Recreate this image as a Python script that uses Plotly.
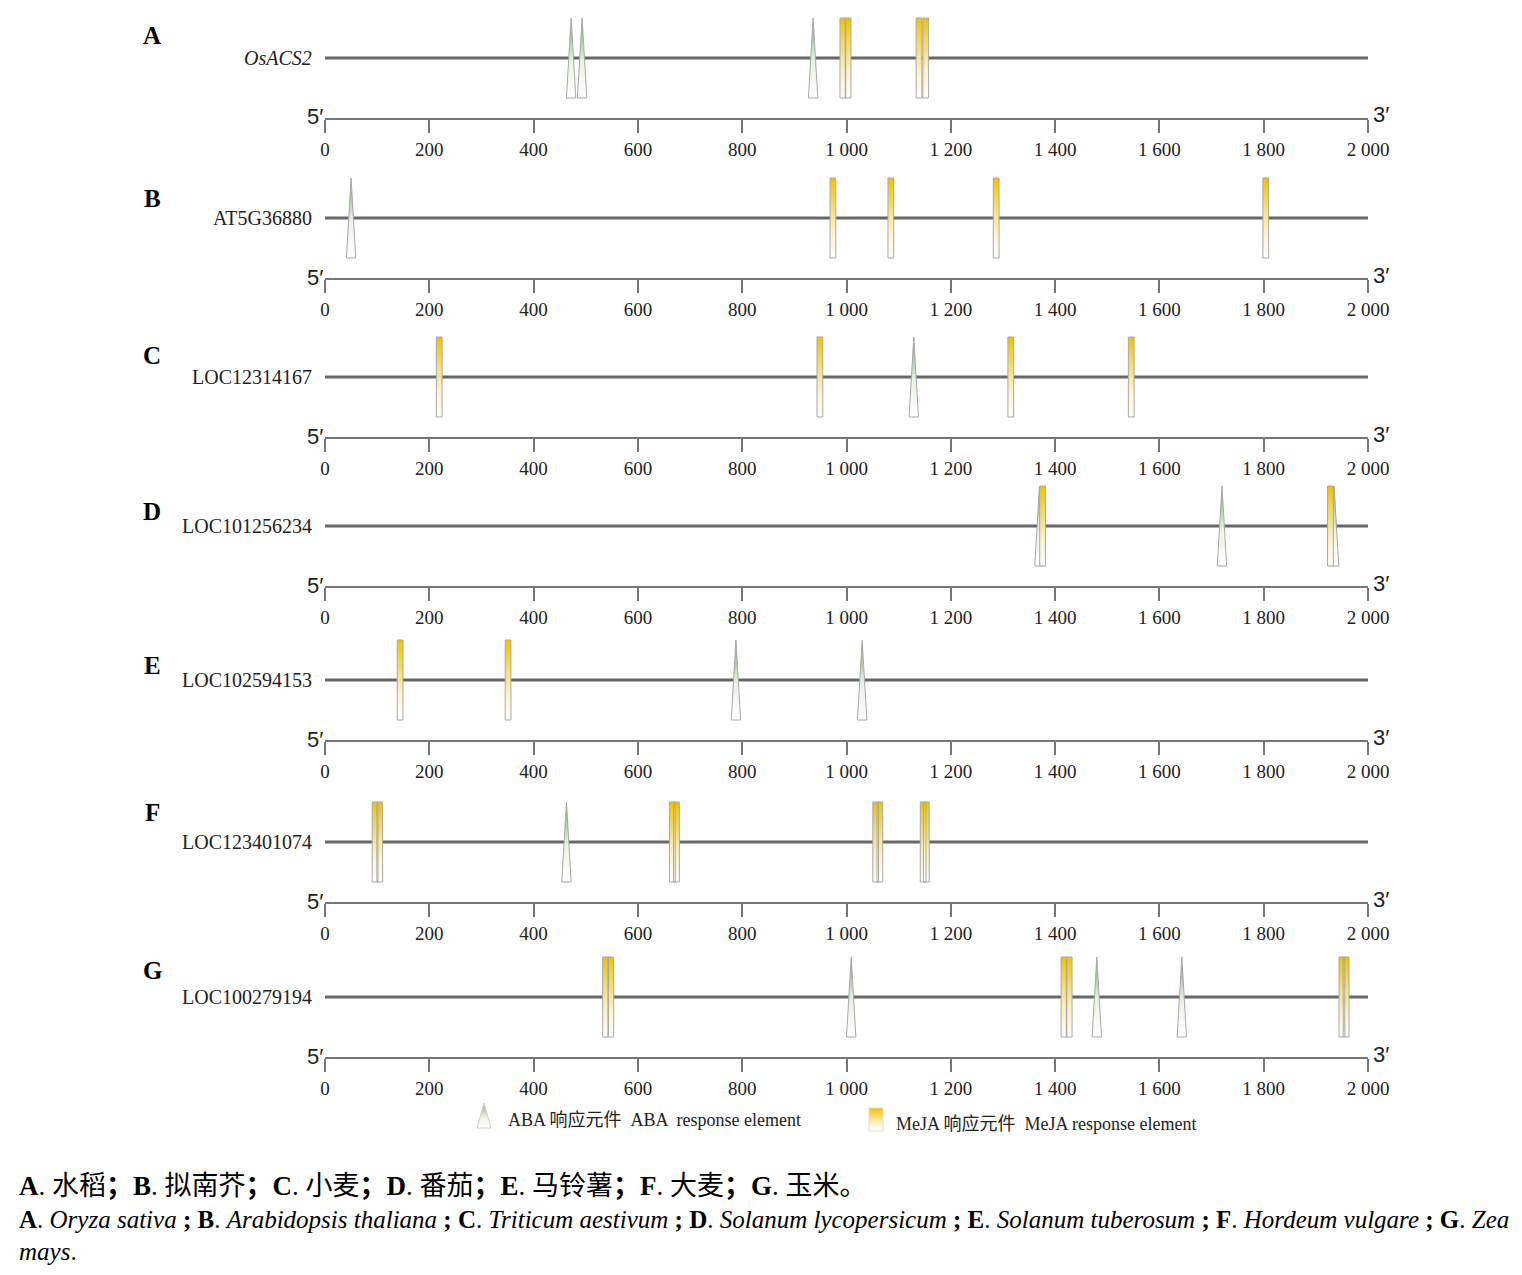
import plotly.graph_objects as go

W, H = 1522, 1275

# ---- data ----
PANELS = ["A", "B", "C", "D", "E", "F", "G"]
GENES = ["OsACS2", "AT5G36880", "LOC12314167", "LOC101256234",
         "LOC102594153", "LOC123401074", "LOC100279194"]
GENE_ITALIC = [True, False, False, False, False, False, False]
GENE_LEN = 2000

# ABA / MeJA response element positions (bp)
ABA_POS = [[472, 493, 936],
           [50],
           [1129],
           [1370, 1720, 1935],
           [788, 1030],
           [463],
           [1009, 1480, 1643]]
MEJA_POS = [[993, 1003, 1139, 1152],
            [974, 1085, 1287, 1804],
            [219, 949, 1315, 1546],
            [1376, 1928],
            [144, 351],
            [96, 105, 666, 674, 1056, 1064, 1147, 1153],
            [538, 548, 1417, 1427, 1950, 1958]]

TICK_VALS = [0, 200, 400, 600, 800, 1000, 1200, 1400, 1600, 1800, 2000]
TICK_TEXT = ["0", "200", "400", "600", "800", "1 000", "1 200",
             "1 400", "1 600", "1 800", "2 000"]

LEGEND_ABA = "ABA 响应元件  ABA  response element"
LEGEND_MEJA = "MeJA 响应元件  MeJA response element"

CAPTION = [
    "<b>A</b>. 水稻<b>；</b><b>B</b>. 拟南芥<b>；</b><b>C</b>. 小麦<b>；</b>"
    "<b>D</b>. 番茄<b>；</b><b>E</b>. 马铃薯<b>；</b><b>F</b>. 大麦<b>；</b>"
    "<b>G</b>. 玉米。",
    "<b>A</b>. <i>Oryza sativa</i> <b>;</b> <b>B</b>. <i>Arabidopsis thaliana</i> <b>;</b> "
    "<b>C</b>. <i>Triticum aestivum</i> <b>;</b> <b>D</b>. <i>Solanum lycopersicum</i> <b>;</b> "
    "<b>E</b>. <i>Solanum tuberosum</i> <b>;</b> <b>F</b>. <i>Hordeum vulgare</i> <b>;</b> "
    "<b>G</b>. <i>Zea</i>",
    "<i>mays</i>.",
]

# ---- layout / style ----
X0, X1 = 325, 1368                  # pixel position of 0 and 2000 bp
AXIS_Y = [118, 278, 437, 586, 740, 902, 1057]
LETTER_DY = [82, 80, 82, 74, 75, 90, 87]
PANEL_H = 110
LINE_Y = 60
EL_BOT, EL_TOP = 20, 100
ABA_W, MEJA_W = 18, 11

SERIF = "Liberation Serif, Times New Roman, Noto Sans CJK SC, serif"
SANS = "Liberation Sans, Arial, sans-serif"
OUTLINE = "#a8a8a8"
ABA_SCALE = [[0, "#ffffff"], [0.45, "#ebf3e6"], [1, "#7aad64"]]
MEJA_SCALE = [[0, "#ffffff"], [0.35, "#fcf2c6"], [1, "#f2c200"]]


def aba_xy(positions, bot, top, w):
    xs, ys = [], []
    for p in positions:
        xs += [p - w / 2, p, p + w / 2, p - w / 2, None]
        ys += [bot, top, bot, bot, None]
    return xs, ys


def meja_xy(positions, bot, top, w):
    xs, ys = [], []
    for p in positions:
        xs += [p - w / 2, p - w / 2, p + w / 2, p + w / 2, p - w / 2, None]
        ys += [bot, top, top, bot, bot, None]
    return xs, ys


fig = go.Figure()
annotations = []

for i, gene in enumerate(GENES):
    k = "" if i == 0 else str(i + 1)
    xa, ya = "x" + k, "y" + k
    ay = AXIS_Y[i]
    dom = [1 - ay / H, 1 - (ay - PANEL_H) / H]

    fig.add_trace(go.Scatter(
        x=[0, GENE_LEN], y=[LINE_Y, LINE_Y], mode="lines",
        line=dict(color="#676767", width=3), cliponaxis=False,
        xaxis=xa, yaxis=ya, showlegend=False, hoverinfo="skip"))

    ax_, ay_ = aba_xy(ABA_POS[i], EL_BOT, EL_TOP, ABA_W)
    fig.add_trace(go.Scatter(
        x=ax_, y=ay_, mode="lines", fill="toself",
        line=dict(color=OUTLINE, width=1),
        fillgradient=dict(type="vertical", colorscale=ABA_SCALE),
        xaxis=xa, yaxis=ya, showlegend=False, hoverinfo="skip"))

    mx_, my_ = meja_xy(MEJA_POS[i], EL_BOT, EL_TOP, MEJA_W)
    fig.add_trace(go.Scatter(
        x=mx_, y=my_, mode="lines", fill="toself",
        line=dict(color=OUTLINE, width=1),
        fillgradient=dict(type="vertical", colorscale=MEJA_SCALE),
        xaxis=xa, yaxis=ya, showlegend=False, hoverinfo="skip"))

    fig.update_layout({
        "xaxis" + k: dict(
            domain=[X0 / W, X1 / W], range=[0, GENE_LEN], anchor=ya,
            showline=True, linecolor="#767676", linewidth=2,
            ticks="outside", ticklen=13, tickwidth=2, tickcolor="#767676",
            tickvals=TICK_VALS, ticktext=TICK_TEXT,
            tickfont=dict(family=SERIF, size=19, color="#222"),
            showgrid=False, zeroline=False, fixedrange=True),
        "yaxis" + k: dict(
            domain=dom, range=[0, PANEL_H], anchor=xa, visible=False,
            fixedrange=True),
    })

    annotations += [
        dict(text="<b>%s</b>" % PANELS[i], xref="paper", x=152 / W,
             xanchor="center", yref=ya, y=LETTER_DY[i], showarrow=False,
             font=dict(family=SERIF, size=25, color="black")),
        dict(text=("<i>%s</i>" % gene) if GENE_ITALIC[i] else gene,
             xref="paper", x=314 / W, xanchor="right", yref=ya, y=LINE_Y,
             showarrow=False, font=dict(family=SERIF, size=20, color="#222")),
        dict(text="5′", xref="paper", x=325 / W, xanchor="right",
             yref=ya, y=1, showarrow=False,
             font=dict(family=SANS, size=22, color="#222")),
        dict(text="3′", xref="paper", x=1371 / W, xanchor="left",
             yref=ya, y=3, showarrow=False,
             font=dict(family=SANS, size=22, color="#222")),
    ]

# legend icons on a full-figure pixel overlay
fig.update_layout(
    xaxis8=dict(domain=[0, 1], range=[0, W], anchor="y8", visible=False,
                fixedrange=True),
    yaxis8=dict(domain=[0, 1], range=[0, H], anchor="x8", visible=False,
                fixedrange=True),
)
lx, ly = aba_xy([484], H - 1128, H - 1103, 14)
fig.add_trace(go.Scatter(
    x=lx, y=ly, mode="lines", fill="toself",
    line=dict(color="#d0d0d0", width=1),
    fillgradient=dict(type="vertical", colorscale=ABA_SCALE),
    xaxis="x8", yaxis="y8", showlegend=False, hoverinfo="skip"))
lx, ly = meja_xy([876], H - 1131, H - 1108, 14)
fig.add_trace(go.Scatter(
    x=lx, y=ly, mode="lines", fill="toself",
    line=dict(color="#e0e0e0", width=1),
    fillgradient=dict(type="vertical", colorscale=MEJA_SCALE),
    xaxis="x8", yaxis="y8", showlegend=False, hoverinfo="skip"))

annotations += [
    dict(text=LEGEND_ABA, xref="paper", x=506 / W, xanchor="left",
         yref="paper", y=1 - 1120 / H, yanchor="middle", showarrow=False,
         font=dict(family=SERIF, size=18, color="#222")),
    dict(text=LEGEND_MEJA, xref="paper", x=894 / W, xanchor="left",
         yref="paper", y=1 - 1124 / H, yanchor="middle", showarrow=False,
         font=dict(family=SERIF, size=18, color="#222")),
]

for line_text, py, fs in zip(CAPTION, [1186, 1219, 1251], [27, 25, 25]):
    annotations.append(dict(
        text=line_text, xref="paper", x=17 / W, xanchor="left",
        yref="paper", y=1 - py / H, yanchor="middle", showarrow=False,
        font=dict(family=SERIF, size=fs, color="black")))

fig.update_layout(
    width=W, height=H, autosize=False,
    margin=dict(l=0, r=0, t=0, b=0, autoexpand=False),
    paper_bgcolor="white", plot_bgcolor="rgba(0,0,0,0)",
    showlegend=False, annotations=annotations,
)

fig.write_html(
    "out.html",
    config={"displayModeBar": False, "responsive": False},
    post_script=("document.body.style.margin='0';"
                 "document.body.style.overflow='hidden';"
                 "document.documentElement.style.overflow='hidden';"),
)
